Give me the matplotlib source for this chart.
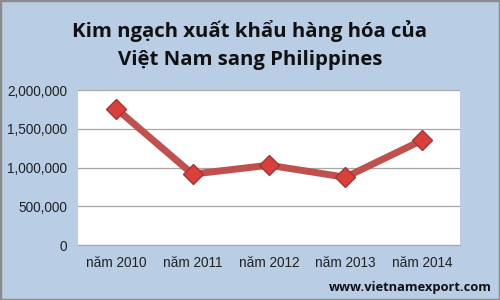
import matplotlib
matplotlib.use('Agg')
import matplotlib.pyplot as plt
from matplotlib.ticker import FuncFormatter
from matplotlib.patches import Rectangle

# chart data
years = ["năm 2010", "năm 2011", "năm 2012", "năm 2013", "năm 2014"]
export_values = [1760000, 915000, 1030000, 875000, 1350000]
y_ticks = [0, 500000, 1000000, 1500000, 2000000]

title = "Kim ngạch xuất khẩu hàng hóa của\nViệt Nam sang Philippines"
source = "www.vietnamexport.com"

bg = "#B9CDE5"
red = "#C0504D"

fig = plt.figure(figsize=(5, 3), dpi=100)
fig.patch.set_facecolor(bg)
fig.patches.append(Rectangle((0, 0), 1, 1, transform=fig.transFigure,
                             fill=False, edgecolor="#8C8C8C", linewidth=2.5))

ax = fig.add_axes([0.156, 0.183, 0.764, 0.517])
ax.set_facecolor("white")

x = list(range(len(years)))
ax.plot(x, export_values, color=red, linewidth=5, marker="D",
        markersize=10.5, markerfacecolor="#D9403B", markeredgecolor="#A33532",
        markeredgewidth=1, zorder=3)

ax.set_xlim(-0.5, len(years) - 0.5)
ax.set_ylim(0, 2000000)
ax.set_yticks(y_ticks)
ax.yaxis.set_major_formatter(FuncFormatter(lambda v, p: f"{int(v):,}"))
ax.set_xticks(x)
ax.set_xticklabels(years)
ax.grid(axis="y", color="#A6A6A6", linewidth=0.9)
ax.set_axisbelow(True)

for side in ["top", "right", "left"]:
    ax.spines[side].set_visible(False)
ax.spines["bottom"].set_color("#A6A6A6")
ax.tick_params(axis="both", length=0, labelsize=9.8, colors="#222222",
               labelfontfamily="Liberation Sans")
ax.tick_params(axis="x", pad=8)
ax.tick_params(axis="y", pad=8)

fig.text(0.5, 0.85, title, ha="center", va="center", fontsize=14.7,
         fontweight="bold", family="Open Sans", linespacing=1.55, color="#111111")
fig.text(0.984, 0.04, source, ha="right", va="center", fontsize=9.3,
         fontweight="bold", family="Open Sans", color="#111111")

plt.savefig("out.png", dpi=100, facecolor=bg)
